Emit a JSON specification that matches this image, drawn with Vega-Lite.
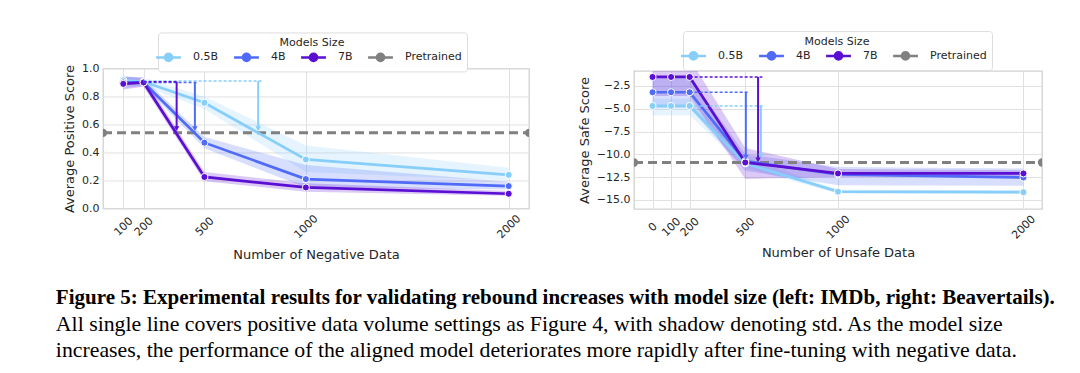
{
  "$schema": "https://vega.github.io/schema/vega-lite/v6.json",
  "padding": {"left": 55, "top": 29, "right": 0, "bottom": 0},
  "background": "white",
  "config": {
    "font": "DejaVu Sans",
    "view": {"stroke": "#d2d2d2", "strokeWidth": 1.3},
    "axis": {
      "labelFont": "DejaVu Sans", "labelFontSize": 11, "labelColor": "#262626",
      "titleFont": "DejaVu Sans", "titleFontSize": 13, "titleFontWeight": "normal", "titleColor": "#262626",
      "domain": false, "ticks": false, "tickSize": 0, "labelOverlap": false, "labelFlush": false,
      "grid": true, "gridColor": "#e0e0e0", "gridWidth": 1
    },
    "axisX": {"labelAngle": -45, "labelAlign": "center", "labelBaseline": "middle", "labelPadding": 18, "titlePadding": 9, "labelOverlap": false},
    "axisY": {"labelPadding": 4, "titlePadding": 5, "labelOverlap": false},
    "legend": {
      "orient": "none", "direction": "horizontal", "columns": 4, "gridAlign": "each",
      "titleFont": "DejaVu Sans", "titleFontSize": 11, "titleFontWeight": "normal", "titleColor": "#262626",
      "titleAnchor": "middle", "titlePadding": 3,
      "labelFont": "DejaVu Sans", "labelFontSize": 11, "labelColor": "#262626", "labelOffset": 19,
      "symbolType": "M-3.1,0H3.1M-0.9,0A0.9,0.9,0,1,1,0.9,0A0.9,0.9,0,1,1,-0.9,0Z",
      "symbolSize": 64, "symbolStrokeWidth": 2.5, "symbolOpacity": 1,
      "columnPadding": 10, "padding": 5,
      "fillColor": "white", "strokeColor": "#dddddd", "cornerRadius": 3
    }
  },
  "title": {
    "text": "Figure 5: Experimental results for validating rebound increases with model size (left: IMDb, right: Beavertails).",
    "subtitle": ["All single line covers positive data volume settings as Figure 4, with shadow denoting std.  As the model size", "increases, the performance of the aligned model deteriorates more rapidly after fine-tuning with negative data."],
    "orient": "bottom", "anchor": "start", "dx": -7, "offset": 24,
    "font": "Liberation Serif", "fontSize": 21, "fontWeight": "bold", "color": "#000000",
    "subtitleFont": "Liberation Serif", "subtitleFontSize": 21.8, "subtitleColor": "#000000",
    "subtitleLineHeight": 26.5, "subtitlePadding": 6
  },
  "datasets": {
    "imdb": [
      {"m":"0.5B","n":100,"v":0.915,"lo":0.885,"hi":0.945},
      {"m":"0.5B","n":200,"v":0.905,"lo":0.875,"hi":0.935},
      {"m":"0.5B","n":500,"v":0.755,"lo":0.71,"hi":0.80},
      {"m":"0.5B","n":1000,"v":0.35,"lo":0.26,"hi":0.45},
      {"m":"0.5B","n":2000,"v":0.24,"lo":0.20,"hi":0.29},
      {"m":"4B","n":100,"v":0.90,"lo":0.86,"hi":0.945},
      {"m":"4B","n":200,"v":0.90,"lo":0.875,"hi":0.93},
      {"m":"4B","n":500,"v":0.47,"lo":0.43,"hi":0.51},
      {"m":"4B","n":1000,"v":0.21,"lo":0.15,"hi":0.31},
      {"m":"4B","n":2000,"v":0.16,"lo":0.135,"hi":0.19},
      {"m":"7B","n":100,"v":0.89,"lo":0.85,"hi":0.94},
      {"m":"7B","n":200,"v":0.90,"lo":0.87,"hi":0.935},
      {"m":"7B","n":500,"v":0.225,"lo":0.195,"hi":0.26},
      {"m":"7B","n":1000,"v":0.15,"lo":0.12,"hi":0.18},
      {"m":"7B","n":2000,"v":0.105,"lo":0.09,"hi":0.125}
    ],
    "imdb_pre": [{"m":"Pretrained","n":0,"v":0.54},{"m":"Pretrained","n":2100,"v":0.54}],
    "imdb_arrow": [
      {"m":"0.5B","x0":200,"x1":790,"xa":765,"y0":0.91,"y1":0.57},
      {"m":"4B","x0":200,"x1":470,"xa":453,"y0":0.90,"y1":0.57},
      {"m":"7B","x0":200,"x1":373,"xa":363,"y0":0.905,"y1":0.57}
    ],
    "bt": [
      {"m":"0.5B","n":0,"v":-4.69,"lo":-5.7,"hi":-3.9},
      {"m":"0.5B","n":100,"v":-4.69,"lo":-5.7,"hi":-3.9},
      {"m":"0.5B","n":200,"v":-4.69,"lo":-5.7,"hi":-3.9},
      {"m":"0.5B","n":500,"v":-11.0,"lo":-11.5,"hi":-10.3},
      {"m":"0.5B","n":1000,"v":-14.1,"lo":-14.3,"hi":-13.9},
      {"m":"0.5B","n":2000,"v":-14.16,"lo":-14.35,"hi":-13.95},
      {"m":"4B","n":0,"v":-3.19,"lo":-4.9,"hi":-1.5},
      {"m":"4B","n":100,"v":-3.19,"lo":-4.9,"hi":-1.5},
      {"m":"4B","n":200,"v":-3.19,"lo":-4.9,"hi":-1.5},
      {"m":"4B","n":500,"v":-10.75,"lo":-11.8,"hi":-10.0},
      {"m":"4B","n":1000,"v":-12.2,"lo":-13.4,"hi":-11.4},
      {"m":"4B","n":2000,"v":-12.55,"lo":-13.45,"hi":-11.55},
      {"m":"7B","n":0,"v":-1.51,"lo":-3.6,"hi":0.5},
      {"m":"7B","n":100,"v":-1.51,"lo":-3.6,"hi":0.5},
      {"m":"7B","n":200,"v":-1.51,"lo":-3.6,"hi":0.5},
      {"m":"7B","n":500,"v":-10.9,"lo":-12.7,"hi":-9.3},
      {"m":"7B","n":1000,"v":-12.1,"lo":-12.5,"hi":-11.6},
      {"m":"7B","n":2000,"v":-12.1,"lo":-12.45,"hi":-11.75}
    ],
    "bt_pre": [{"m":"Pretrained","n":-100,"v":-10.9},{"m":"Pretrained","n":2100,"v":-10.9}],
    "bt_arrow": [
      {"m":"0.5B","x0":200,"x1":605,"xa":584,"y0":-4.69,"y1":-10.2},
      {"m":"4B","x0":200,"x1":521,"xa":503,"y0":-3.19,"y1":-10.3},
      {"m":"7B","x0":200,"x1":592,"xa":569,"y0":-1.51,"y1":-10.6}
    ]
  },
  "spacing": 47,
  "center": true,
  "resolve": {"scale": {"fill": "independent", "stroke": "independent"}, "legend": {"fill": "independent", "stroke": "independent"}},
  "hconcat": [
    {
      "width": 426, "height": 140,
      "layer": [
        {
          "data": {"name": "imdb"},
          "mark": {"type": "area", "fillOpacity": 0.22, "clip": true},
          "encoding": {
            "x": {"field": "n", "type": "quantitative", "scale": {"domain": [0, 2100], "nice": false, "zero": false}, "axis": {"values": [100, 200, 500, 1000, 2000], "format": "d", "title": "Number of Negative Data", "labelOverlap": false}},
            "y": {"field": "lo", "type": "quantitative", "scale": {"domain": [0, 1], "nice": false}, "axis": {"values": [0, 0.2, 0.4, 0.6, 0.8, 1.0], "format": ".1f", "title": "Average Positive Score", "labelOverlap": false, "tickCount": 6}},
            "y2": {"field": "hi"},
            "fill": {"field": "m", "type": "nominal", "scale": {"domain": ["0.5B", "4B", "7B", "Pretrained"], "range": ["#87cefa", "#4f6bf7", "#5a0fd2", "#808080"]}, "legend": {"legendX": 55, "legendY": -36, "title": "Models Size"}}
          }
        },
        {
          "data": {"name": "imdb_pre"},
          "mark": {"type": "line", "strokeWidth": 3, "strokeDash": [9, 5], "clip": true},
          "encoding": {
            "x": {"field": "n", "type": "quantitative"},
            "y": {"field": "v", "type": "quantitative"},
            "stroke": {"field": "m", "type": "nominal", "scale": {"domain": ["0.5B", "4B", "7B", "Pretrained"], "range": ["#87cefa", "#4f6bf7", "#5a0fd2", "#808080"]}, "legend": {"legendX": 55, "legendY": -36, "title": "Models Size"}}
          }
        },
        {
          "data": {"name": "imdb_pre"},
          "mark": {"type": "point", "shape": "circle", "filled": true, "size": 70, "opacity": 1, "clip": true},
          "encoding": {
            "x": {"field": "n", "type": "quantitative"},
            "y": {"field": "v", "type": "quantitative"},
            "fill": {"field": "m", "type": "nominal", "legend": {"legendX": 55, "legendY": -36, "title": "Models Size"}}
          }
        },
        {
          "data": {"name": "imdb"},
          "mark": {"type": "line", "strokeWidth": 2.7, "clip": true},
          "encoding": {
            "x": {"field": "n", "type": "quantitative"},
            "y": {"field": "v", "type": "quantitative"},
            "stroke": {"field": "m", "type": "nominal", "legend": {"legendX": 55, "legendY": -36, "title": "Models Size"}}
          }
        },
        {
          "data": {"name": "imdb"},
          "mark": {"type": "point", "shape": "circle", "filled": true, "size": 50, "opacity": 1, "stroke": "white", "strokeWidth": 1, "clip": true},
          "encoding": {
            "x": {"field": "n", "type": "quantitative"},
            "y": {"field": "v", "type": "quantitative"},
            "fill": {"field": "m", "type": "nominal", "legend": {"legendX": 55, "legendY": -36, "title": "Models Size"}}
          }
        },
        {
          "data": {"name": "imdb_arrow"},
          "mark": {"type": "rule", "strokeWidth": 1.5, "strokeDash": [3, 2]},
          "encoding": {
            "x": {"field": "x0", "type": "quantitative"},
            "x2": {"field": "x1"},
            "y": {"field": "y0", "type": "quantitative"},
            "stroke": {"field": "m", "type": "nominal", "legend": {"legendX": 55, "legendY": -36, "title": "Models Size"}}
          }
        },
        {
          "data": {"name": "imdb_arrow"},
          "mark": {"type": "rule", "strokeWidth": 2},
          "encoding": {
            "x": {"field": "xa", "type": "quantitative"},
            "y": {"field": "y0", "type": "quantitative"},
            "y2": {"field": "y1"},
            "stroke": {"field": "m", "type": "nominal", "legend": {"legendX": 55, "legendY": -36, "title": "Models Size"}}
          }
        },
        {
          "data": {"name": "imdb_arrow"},
          "mark": {"type": "point", "shape": "triangle-down", "filled": true, "size": 30, "opacity": 1},
          "encoding": {
            "x": {"field": "xa", "type": "quantitative"},
            "y": {"field": "y1", "type": "quantitative"},
            "fill": {"field": "m", "type": "nominal", "legend": {"legendX": 55, "legendY": -36, "title": "Models Size"}}
          }
        }
      ]
    },
    {
      "width": 408, "height": 138,
      "layer": [
        {
          "data": {"name": "bt"},
          "mark": {"type": "area", "fillOpacity": 0.22, "clip": true},
          "encoding": {
            "x": {"field": "n", "type": "quantitative", "scale": {"domain": [-100, 2100], "nice": false, "zero": false}, "axis": {"values": [0, 100, 200, 500, 1000, 2000], "format": "d", "title": "Number of Unsafe Data", "labelOverlap": false, "titlePadding": 6}},
            "y": {"field": "lo", "type": "quantitative", "scale": {"domain": [-16.0, -0.85], "nice": false, "zero": false}, "axis": {"values": [-2.5, -5, -7.5, -10, -12.5, -15], "format": ".1f", "title": "Average Safe Score", "labelOverlap": false, "tickCount": 6}},
            "y2": {"field": "hi"},
            "fill": {"field": "m", "type": "nominal", "scale": {"domain": ["0.5B", "4B", "7B", "Pretrained"], "range": ["#87cefa", "#4f6bf7", "#5a0fd2", "#808080"]}, "legend": {"legendX": 49, "legendY": -40, "title": "Models Size"}}
          }
        },
        {
          "data": {"name": "bt_pre"},
          "mark": {"type": "line", "strokeWidth": 3, "strokeDash": [9, 5], "clip": true},
          "encoding": {
            "x": {"field": "n", "type": "quantitative"},
            "y": {"field": "v", "type": "quantitative"},
            "stroke": {"field": "m", "type": "nominal", "scale": {"domain": ["0.5B", "4B", "7B", "Pretrained"], "range": ["#87cefa", "#4f6bf7", "#5a0fd2", "#808080"]}, "legend": {"legendX": 49, "legendY": -40, "title": "Models Size"}}
          }
        },
        {
          "data": {"name": "bt_pre"},
          "mark": {"type": "point", "shape": "circle", "filled": true, "size": 70, "opacity": 1, "clip": true},
          "encoding": {
            "x": {"field": "n", "type": "quantitative"},
            "y": {"field": "v", "type": "quantitative"},
            "fill": {"field": "m", "type": "nominal", "legend": {"legendX": 49, "legendY": -40, "title": "Models Size"}}
          }
        },
        {
          "data": {"name": "bt"},
          "mark": {"type": "line", "strokeWidth": 2.7, "clip": true},
          "encoding": {
            "x": {"field": "n", "type": "quantitative"},
            "y": {"field": "v", "type": "quantitative"},
            "stroke": {"field": "m", "type": "nominal", "legend": {"legendX": 49, "legendY": -40, "title": "Models Size"}}
          }
        },
        {
          "data": {"name": "bt"},
          "mark": {"type": "point", "shape": "circle", "filled": true, "size": 50, "opacity": 1, "stroke": "white", "strokeWidth": 1, "clip": true},
          "encoding": {
            "x": {"field": "n", "type": "quantitative"},
            "y": {"field": "v", "type": "quantitative"},
            "fill": {"field": "m", "type": "nominal", "legend": {"legendX": 49, "legendY": -40, "title": "Models Size"}}
          }
        },
        {
          "data": {"name": "bt_arrow"},
          "mark": {"type": "rule", "strokeWidth": 1.5, "strokeDash": [3, 2]},
          "encoding": {
            "x": {"field": "x0", "type": "quantitative"},
            "x2": {"field": "x1"},
            "y": {"field": "y0", "type": "quantitative"},
            "stroke": {"field": "m", "type": "nominal", "legend": {"legendX": 49, "legendY": -40, "title": "Models Size"}}
          }
        },
        {
          "data": {"name": "bt_arrow"},
          "mark": {"type": "rule", "strokeWidth": 2},
          "encoding": {
            "x": {"field": "xa", "type": "quantitative"},
            "y": {"field": "y0", "type": "quantitative"},
            "y2": {"field": "y1"},
            "stroke": {"field": "m", "type": "nominal", "legend": {"legendX": 49, "legendY": -40, "title": "Models Size"}}
          }
        },
        {
          "data": {"name": "bt_arrow"},
          "mark": {"type": "point", "shape": "triangle-down", "filled": true, "size": 30, "opacity": 1},
          "encoding": {
            "x": {"field": "xa", "type": "quantitative"},
            "y": {"field": "y1", "type": "quantitative"},
            "fill": {"field": "m", "type": "nominal", "legend": {"legendX": 49, "legendY": -40, "title": "Models Size"}}
          }
        }
      ]
    }
  ]
}
